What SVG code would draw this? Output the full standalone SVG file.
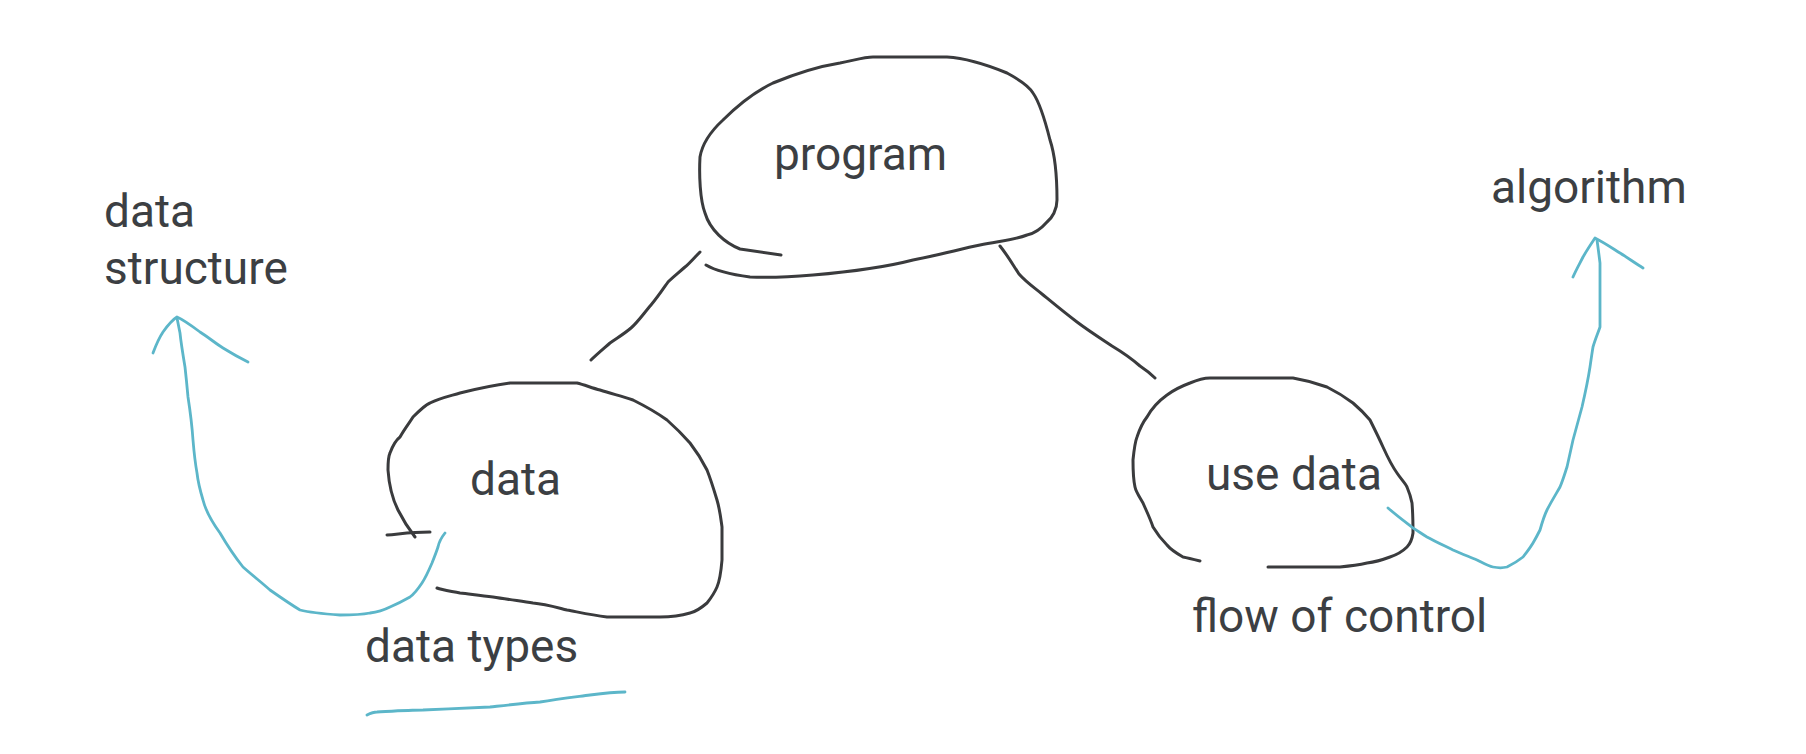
<svg xmlns="http://www.w3.org/2000/svg" width="1806" height="754" viewBox="0 0 1806 754">
<style>
.ink{fill:none;stroke:#3a3b3d;stroke-width:3;stroke-linecap:round;stroke-linejoin:round}
.teal{fill:none;stroke:#5cb6c9;stroke-width:2.8;stroke-linecap:round;stroke-linejoin:round}
.lbl{font-family:Roboto,"Liberation Sans",sans-serif;font-size:46px;fill:#3c3f43}
</style>
<rect width="1806" height="754" fill="#ffffff"/>
<g id="program">
<path class="ink" d="M781,255 C760,252 746,250 740,249 C725,243 710,230 705,213 C700,200 699,175 700,157 C702,145 710,132 723,120 C735,108 752,93 773,83 C790,76 815,67 840,63 C855,60 865,57 873,57 L947,57 C965,58 990,66 1007,73 C1020,80 1030,88 1033,93 C1040,103 1045,120 1050,140 C1055,155 1057,180 1057,200 C1057,210 1052,218 1047,222 C1040,230 1032,234 1027,235 C1015,240 1000,241 980,245 C960,249 940,255 913,260 C890,266 860,271 813,275 C790,277 770,278 750,277 C735,275 716,271 706,265"/>
<text class="lbl" x="774" y="170">program</text>
</g>
<g id="data">
<path class="ink" d="M415,537 C408,528 403,520 398,510 C392,498 389,485 388,470 C388,460 389,455 390,453 C393,445 396,440 400,437 C405,428 410,422 413,417 C420,410 425,405 430,403 C440,398 450,396 460,393 C480,388 495,385 510,383 L577,383 C585,385 592,388 600,390 C612,394 622,396 633,400 C645,406 656,412 667,420 C676,428 683,435 690,443 C697,452 702,460 707,470 C711,480 714,490 717,500 C720,510 721,520 722,527 L722,560 C721,572 720,580 717,587 C714,594 711,598 707,603 C700,609 695,612 690,613 C680,616 670,617 660,617 L607,617 C590,615 578,612 567,610 C555,607 545,604 533,603 C520,601 505,599 493,597 C480,596 470,594 460,593 C450,591 442,590 437,588"/>
<path class="ink" d="M387,535 C400,534 410,532 430,532"/>
<text class="lbl" x="470" y="495">data</text>
</g>
<g id="usedata">
<path class="ink" d="M1200,561 C1192,559 1188,558 1183,557 C1176,553 1171,550 1167,545 C1160,538 1156,532 1153,527 C1150,518 1146,510 1143,503 C1139,496 1136,492 1135,487 C1133,478 1133,470 1133,460 C1134,450 1135,442 1137,437 C1140,428 1143,422 1147,417 C1152,408 1160,400 1167,395 C1175,389 1182,386 1190,383 C1197,380 1203,378 1210,378 L1293,378 C1305,380 1316,383 1327,387 C1337,392 1345,397 1353,403 C1360,409 1365,414 1370,420 C1375,430 1379,438 1383,447 C1388,458 1392,466 1397,473 C1401,479 1405,483 1407,487 C1410,494 1411,498 1412,503 C1413,515 1413,525 1413,533 C1412,540 1410,544 1407,547 C1402,552 1396,555 1390,557 C1382,560 1375,562 1367,563 C1358,565 1350,566 1340,567 L1268,567"/>
<text class="lbl" x="1206" y="490">use data</text>
</g>
<g id="datastructure">
<text class="lbl" x="104" y="227">data</text>
<text class="lbl" x="104" y="284">structure</text>
</g>
<g id="algorithm">
<text class="lbl" x="1491" y="203">algorithm</text>
</g>
<g id="datatypes">
<text class="lbl" x="365" y="662">data types</text>
<path class="teal" d="M367,715 C371,713 374,712 377,712 C395,711 410,710 423,710 C445,709 470,708 490,707 C508,705 525,703 540,702 C558,699 575,697 590,695 C605,693 615,692 625,692"/>
</g>
<g id="flowofcontrol">
<text class="lbl" x="1192" y="632">flow of control</text>
</g>
<g id="connectors">
<path class="ink" d="M700,252 C693,259 690,263 685,267 C677,274 672,278 668,282 C661,292 657,298 651,305 C644,313 638,322 631,328 C624,334 617,338 610,343 C602,350 596,355 591,360"/>
<path class="ink" d="M1000,246 C1008,256 1013,265 1019,274 C1027,283 1035,288 1042,294 C1053,303 1065,313 1077,322 C1089,331 1100,338 1112,346 C1122,352 1132,359 1140,366 C1146,370 1151,374 1155,378"/>
<path class="teal" d="M445,533 C441,538 439,542 438,547 C436,553 434,558 432,563 C429,570 426,577 422,583 C418,589 414,594 410,597 C403,601 397,604 390,607 C384,610 378,612 370,613 C360,615 350,615 340,615 C326,614 312,613 300,610 C290,604 280,597 270,590 C261,582 252,575 243,567 C235,557 227,545 220,533 C212,522 206,512 203,500 C200,490 198,482 197,473 C195,462 194,452 193,440 C192,425 190,410 188,397 C187,386 186,376 185,367 C183,355 181,343 180,333 C179,328 178,323 177,318"/>
<path class="teal" d="M153,353 C156,345 159,338 163,332 C168,325 172,320 177,317 C184,320 192,326 200,332 C208,337 215,343 223,348 C231,353 240,358 248,362"/>
<path class="teal" d="M1388,508 C1396,515 1404,521 1413,528 C1418,531 1422,534 1427,537 C1436,542 1445,546 1453,550 C1462,554 1470,557 1477,560 C1483,563 1488,566 1493,567 C1498,568 1503,568 1507,567 C1513,564 1518,561 1523,557 C1527,552 1530,548 1533,543 C1536,538 1538,534 1540,530 C1542,523 1544,516 1547,510 C1551,502 1556,494 1560,487 C1563,480 1565,473 1567,467 C1569,458 1571,449 1573,440 C1576,429 1579,418 1582,407 C1585,394 1588,380 1590,367 C1591,360 1592,353 1593,347 C1595,340 1598,333 1600,327 C1600,305 1600,285 1600,263 C1599,255 1598,247 1597,240"/>
<path class="teal" d="M1573,277 C1576,270 1580,263 1583,257 C1587,250 1591,244 1595,238 C1603,242 1612,248 1620,253 C1628,258 1635,263 1643,268"/>
</g>
</svg>
